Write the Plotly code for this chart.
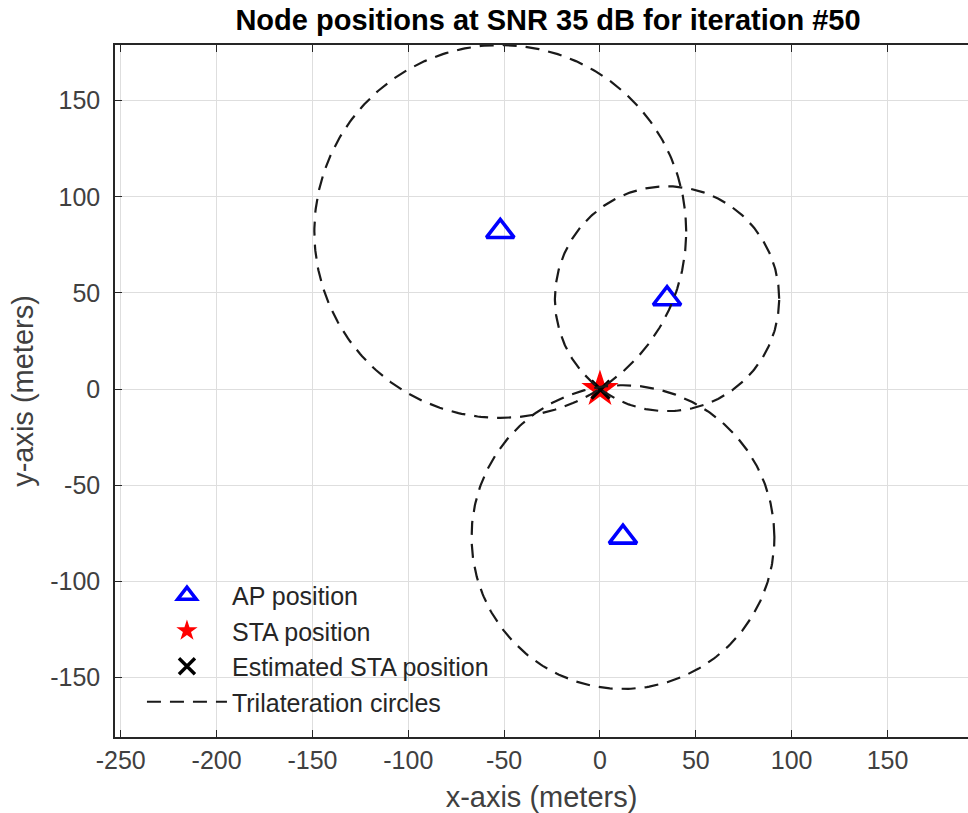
import numpy as np
import plotly.graph_objects as go

# Data
ap_x = [-52, 35, 12]
ap_y = [82, 47, -77]
sta_x = [0]
sta_y = [0]
est_x = [0.3]
est_y = [-0.3]
circle_radius = [97, 58.5, 79]

x_ticks = [-250, -200, -150, -100, -50, 0, 50, 100, 150]
y_ticks = [-150, -100, -50, 0, 50, 100, 150]
x_ticktext = [str(v) for v in x_ticks]
y_ticktext = [str(v) for v in y_ticks]

# Build circle outlines (centred on APs)
theta = np.linspace(0, 2 * np.pi, 361)
cx, cy = [], []
for xc, yc, r in zip(ap_x, ap_y, circle_radius):
    cx += list(xc + r * np.cos(theta)) + [None]
    cy += list(yc + r * np.sin(theta)) + [None]

FONT = "Liberation Sans, Arial, Helvetica"

fig = go.Figure()
fig.add_trace(go.Scatter(x=ap_x, y=ap_y, mode="markers", name="AP position",
                         marker=dict(symbol="triangle-up-open", size=24, color="blue",
                                     line=dict(width=3.6, color="blue"))))
fig.add_trace(go.Scatter(x=sta_x, y=sta_y, mode="markers", name="STA position",
                         marker=dict(symbol="star", size=28, color="red",
                                     line=dict(width=0))))
fig.add_trace(go.Scatter(x=est_x, y=est_y, mode="markers", name="Estimated STA position",
                         marker=dict(symbol="x-thin-open", size=18, color="black",
                                     line=dict(width=3.4, color="black"))))
fig.add_trace(go.Scatter(x=cx, y=cy, mode="lines", name="Trilateration circles",
                         line=dict(color="#1a1a1a", width=2.2, dash="14px,9px")))

axis_common = dict(showline=True, linecolor="#262626", linewidth=1.5,
                   ticks="inside", ticklen=7, tickcolor="#262626",
                   showgrid=True, gridcolor="#dedede", gridwidth=1, zeroline=False,
                   tickfont=dict(family=FONT, size=25, color="#404040"),
                   title_font=dict(family=FONT, size=29, color="#404040"))

fig.update_layout(
    width=968, height=813,
    margin=dict(l=115, r=0, t=45, b=76),
    paper_bgcolor="white", plot_bgcolor="white",
    title=dict(text="<b>Node positions at SNR 35 dB for iteration #50</b>",
               x=548 / 968, xanchor="center", y=1 - 20 / 813, yanchor="middle",
               font=dict(family=FONT, size=29, color="black")),
    xaxis=dict(range=[-253, 192], tickvals=x_ticks, ticktext=x_ticktext,
               title_text="x-axis (meters)", title_standoff=14, mirror="ticks",
               **axis_common),
    yaxis=dict(range=[-181, 179], tickvals=y_ticks, ticktext=y_ticktext,
               title_text="y-axis (meters)", title_standoff=8, mirror=False,
               ticklabelstandoff=8, **axis_common),
    legend=dict(x=0.0316, y=0.2377, xanchor="left", yanchor="top",
                bgcolor="rgba(0,0,0,0)", borderwidth=0,
                font=dict(family=FONT, size=25, color="#262626"),
                itemwidth=80, tracegroupgap=0),
    showlegend=True,
)

fig.write_html("out.html", config={"displayModeBar": False},
               post_script="document.body.style.margin='0';document.body.style.overflow='hidden';")
